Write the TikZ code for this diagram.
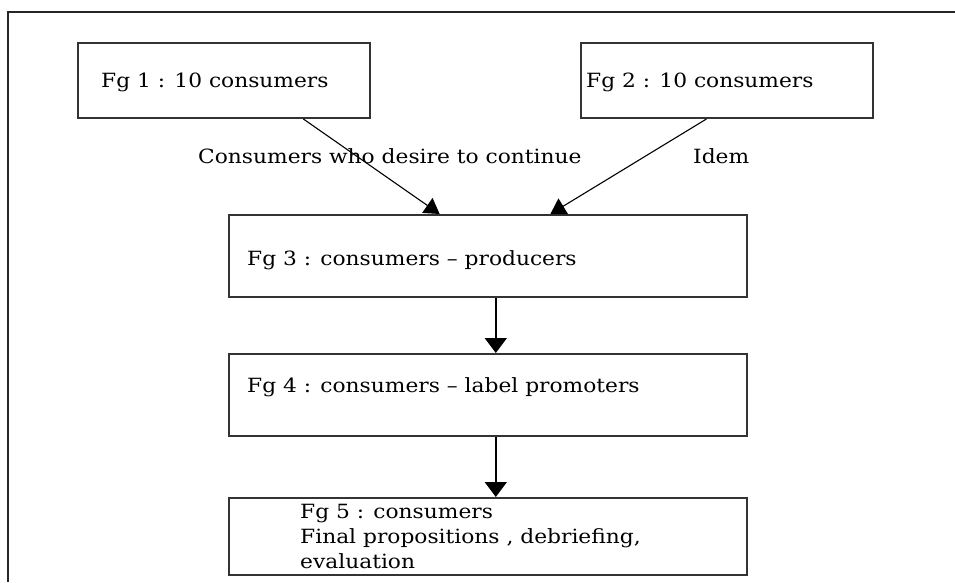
\documentclass[tikz,border=0pt]{standalone}
\usepackage{fontspec}
\setmainfont{DejaVu Serif}[FakeStretch=1.11]
\usetikzlibrary{arrows.meta,calc}
\begin{document}
\begin{tikzpicture}[x=1pt,y=-1pt,
  frame/.style={line width=2.4pt,draw=black!85},
  boxnode/.style={draw=black!80,line width=2pt,rectangle,inner sep=0pt},
  txt/.style={anchor=base west,inner sep=0pt,font=\fontsize{19.6}{25}\selectfont},
  diag/.style={line width=1.1pt,-{Triangle[width=18pt,length=15pt]}},
  vert/.style={line width=1.8pt,-{Triangle[width=22pt,length=15pt]}}
]
\useasboundingbox (0,0) rectangle (955,582);
% frame
\coordinate (ftl) at (8,12);
\coordinate (ftr) at (955,12);
\coordinate (fbl) at (8,582);
\draw[frame] (ftr) -- (ftl) -- (fbl);
% boxes
\node[boxnode,minimum width=292pt,minimum height=75pt] (fg1) at (224,80.5) {};
\node[boxnode,minimum width=292pt,minimum height=75pt] (fg2) at (727,80.5) {};
\node[boxnode,minimum width=518pt,minimum height=82pt] (fg3) at (488,256) {};
\node[boxnode,minimum width=518pt,minimum height=82pt] (fg4) at (488,395) {};
\node[boxnode,minimum width=518pt,minimum height=77pt] (fg5) at (488,536.5) {};
% texts
\node[txt] (t1) at (101,87) {Fg 1 : 10 consumers};
\node[txt] (t2) at (586,87) {Fg 2 : 10 consumers};
\node[txt] (t3) at (247,265) {Fg 3 : consumers – producers};
\node[txt] (t4) at (247,392) {Fg 4 : consumers – label promoters};
\node[txt] (t5a) at (300,518) {Fg 5 : consumers};
\node[txt] (t5b) at (300,543) {Final propositions , debriefing,};
\node[txt] (t5c) at (300,568) {evaluation};
\node[txt] (l1) at (198,163) {Consumers who desire to continue};
\node[txt] (l2) at (693,163) {Idem};
% connectors
\coordinate (a1s) at ($(fg1.south west)!0.77!(fg1.south east)$);
\coordinate (a1e) at ($(fg3.north west)!0.407!(fg3.north east)$);
\coordinate (a2s) at ($(fg2.south west)!0.43!(fg2.south east)$);
\coordinate (a2e) at ($(fg3.north west)!0.62!(fg3.north east)$);
\coordinate (v1) at ($(fg3.south west)!0.515!(fg3.south east)$);
\coordinate (v2) at ($(fg4.south west)!0.515!(fg4.south east)$);
\draw[diag] (a1s) -- (a1e);
\draw[diag] (a2s) -- (a2e);
\draw[vert] (v1) -- (v1 |- fg4.north);
\draw[vert] (v2) -- (v2 |- fg5.north);
\end{tikzpicture}
\end{document}
